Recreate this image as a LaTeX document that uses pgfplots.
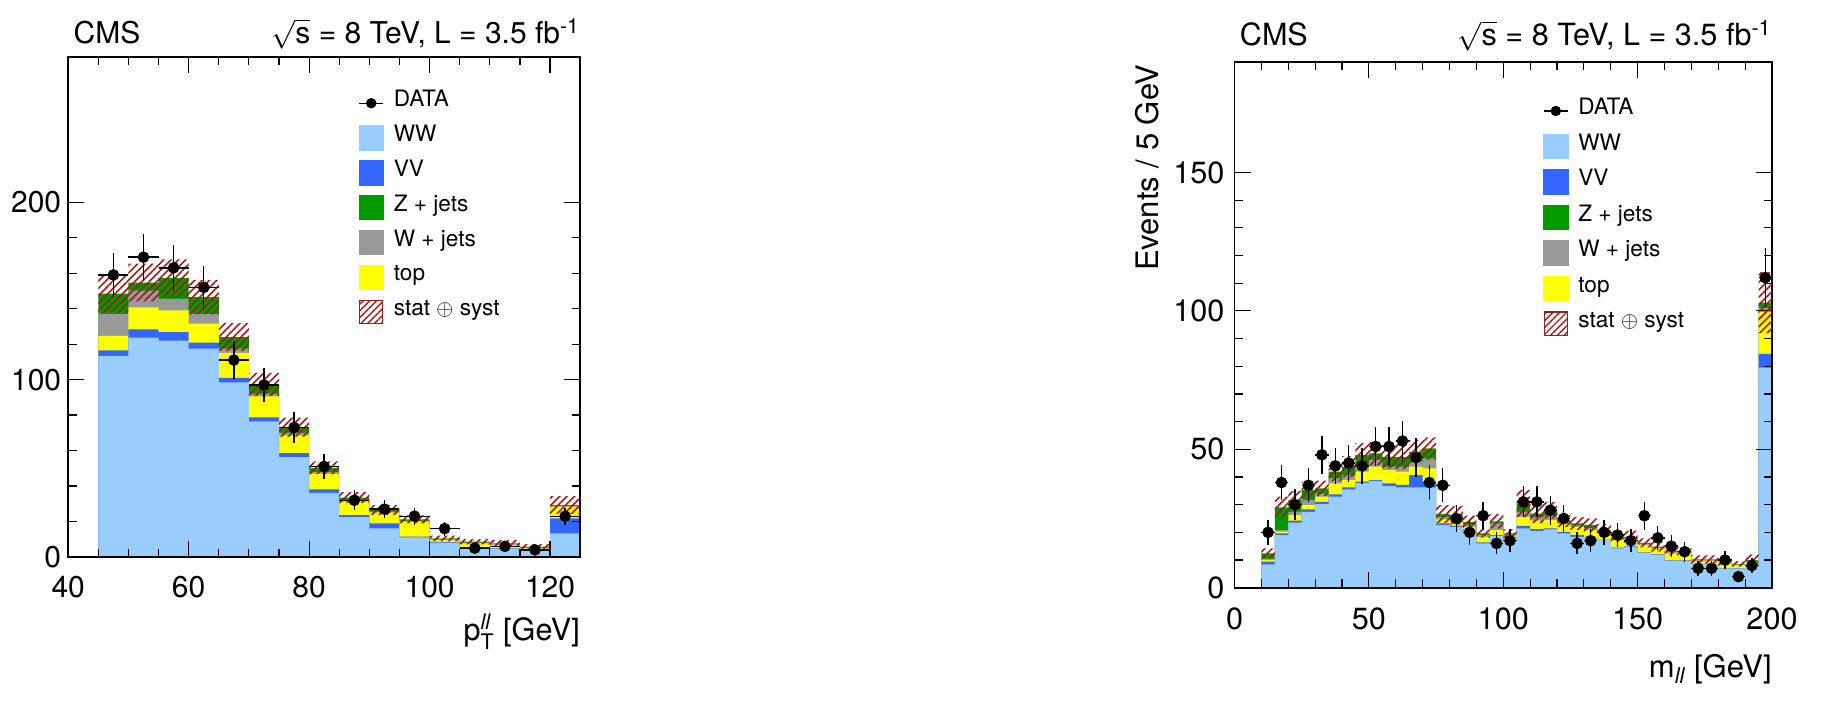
\documentclass[border=0pt]{standalone}
\usepackage{fontspec}
\setmainfont{TeX Gyre Heros}
\usepackage{amsmath}
\usepackage{pgfplots}
\pgfplotsset{compat=1.18}
\usepackage{pgfplotstable}
\usetikzlibrary{patterns.meta}

\definecolor{cww}{RGB}{153,204,255}
\definecolor{cvv}{RGB}{51,102,255}
\definecolor{czj}{RGB}{0,153,0}
\definecolor{cwj}{RGB}{153,153,153}
\definecolor{ctop}{RGB}{255,255,0}
\definecolor{chatch}{RGB}{165,25,25}

% cumulative stack boundaries (WW, +VV, +top, +W+jets, +Z+jets), band half-width, data, data error
\pgfplotstableread{
x   ww    vv    top   wj    zj    err  d    de
45  113.2 116.4 124.7 137   148.4 10.6 159  12.6
50  123.6 128.3 140.7 150.2 154.7 10.6 169  13
55  122   126.8 139   145.5 157.2 10.5 163  12.8
60  117.4 120.8 131.5 137   146.5 9.7  152  12.3
65  98.4  101   115.1 117.4 124   7.8  111  10.5
70  76.4  78.7  90.5  92    97.3  6.5  97   9.8
75  56.3  58.6  68.5  69.9  73.2  5.3  73   8.5
80  36.2  38.1  47    47.9  50.3  3.6  51   7.1
85  22.5  23.6  31.3  32    33.5  3.0  32   5.7
90  16.2  19    25    25.6  26.5  2.8  27   5.2
95  11.1  11.5  19.9  20.4  21.2  2.2  23   4.8
100 8.1   8.5   9.6   10    10.5  1.6  16   4
105 4.9   5.1   7.7   8.1   8.6   1.5  5    2.2
110 4.5   4.8   6.8   7.2   7.7   1.8  6    2.4
115 3.6   3.8   4.9   5.3   5.8   1.4  4    2
120 13.3  21.8  28.4  28.8  29.3  5.0  23   4.8
125 13.3  21.8  28.4  28.8  29.3  5.0  nan  nan
}\tabL

\pgfplotstableread{
x   ww    vv    top   wj    zj    err  d    de
10  8.4   9.4   10    10.5  12.4  1.8  20   4.5
15  19    19.6  20.3  20.8  29    3.9  38   6.2
20  23.5  24.2  26.2  27.4  31.6  3.3  30   5.5
25  27.4  28.3  29.8  31.6  35.3  3.0  37   6.1
30  30.2  31    32.9  34    35.9  2.8  48   6.9
35  32.9  33.7  37.7  39.5  41.9  3.4  44   6.6
40  35.5  36.2  38.9  40.7  43.7  3.8  45   6.7
45  37.9  38.3  41.9  43.7  47.9  4.3  44   6.6
50  38.6  38.9  43.7  46.1  48.5  4.2  51   7.1
55  36.7  37.7  42.5  43.7  47.3  4.2  51   7.1
60  36.2  37.1  41.9  43.7  47.3  4.5  53   7.3
65  36.2  40.7  43.7  45.5  49.1  4.3  47   6.9
70  36.2  38.3  43.1  46.7  50.3  4.0  38   6.2
75  22.6  23.2  24.7  25.5  26.6  3.2  37   6.1
80  22    22.4  23.8  24.6  26.2  3.4  25   5
85  20.6  21.1  22    22.8  23.8  2.2  20   4.5
90  16    16.4  18.4  19    19.6  1.5  26   5.1
95  18.7  19    20.8  23.2  24    2.6  16   4
100 17.8  18.2  19    19.3  19.6  1.5  17   4.1
105 21.4  22.3  25.6  27.4  30.4  4.9  31   5.6
110 20.5  21.2  24.2  25.4  26.8  3.5  31   5.6
115 21.1  21.4  24.4  26    28    3.0  28   5.3
120 19.6  20.1  23    23.7  24.4  2.4  25   5
125 18.4  19    22    22.5  23.2  2.4  16   4
130 18.2  18.4  20.8  21.5  22.6  2.4  17   4.1
135 17.2  17.4  19.6  20.2  20.8  2.2  20   4.5
140 14.2  14.5  17.2  17.7  18.4  1.8  19   4.4
145 14.8  15    17.4  17.9  18.4  2.2  17   4.1
150 12.6  12.8  15.4  15.8  16.2  1.6  26   5.1
155 11.8  12    14.2  14.5  14.8  1.8  18   4.2
160 9.7   9.9   12.4  12.9  13.4  1.6  15   3.9
165 9.7   9.9   12.4  12.8  13.2  1.5  13   3.6
170 8.5   8.6   9.7   10    10.2  1.5  7    2.6
175 8.5   8.6   9.7   10    10.2  1.5  7    2.6
180 7     7.1   8.8   9.1   9.3   1.3  10   3.2
185 7     7.1   8.2   8.4   8.6   1.0  4    2
190 7.8   7.9   9.4   9.7   10    2.0  8    2.8
195 79.5  84.5  99.5  101   103   11   112  10.6
200 79.5  84.5  99.5  101   103   11   nan  nan
}\tabR

\pgfplotsset{
  posL/.style={at={(34.1pt,84pt)}, anchor=south west, scale only axis,
    width=256pt, height=250.15pt, xmin=40, xmax=125, ymin=0, ymax=282},
  posR/.style={at={(617.25pt,68.65pt)}, anchor=south west, scale only axis,
    width=268.75pt, height=263pt, xmin=0, xmax=200, ymin=0, ymax=190},
  cms/.style={
    clip=false,
    axis on top,
    axis line style={line width=0.9pt},
    tick style={line width=0.6pt, black},
    tick align=inside,
    major tick length=8pt,
    minor tick length=4.2pt,
    /pgf/number format/assume math mode=true,
    tick label style={font=\fontsize{15}{17}\selectfont},
    xticklabel style={yshift=-6pt},
    legend cell align=left,
    legend style={draw=none, fill=none, anchor=north west, inner sep=0pt,
      font=\fontsize{11.3}{13}\selectfont,
      nodes={inner sep=0pt, text height=7.5pt, text depth=2.2pt},
      row sep=4.8pt},
  },
  boxleg/.style={legend image code/.code={\fill[#1] (0pt,-6.9pt) rectangle (12.2pt,5.3pt); \path (17.2pt,0pt);}},
}

\newcommand{\stack}[1]{%
  \addplot[fill=czj, draw=none, const plot, forget plot] table[x=x, y=zj] {#1} \closedcycle;
  \addplot[fill=cwj, draw=none, const plot, forget plot] table[x=x, y=wj] {#1} \closedcycle;
  \addplot[fill=ctop, draw=none, const plot, forget plot] table[x=x, y=top] {#1} \closedcycle;
  \addplot[fill=cvv, draw=none, const plot, forget plot] table[x=x, y=vv] {#1} \closedcycle;
  \addplot[fill=cww, draw=none, const plot, forget plot] table[x=x, y=ww] {#1} \closedcycle;
  \addlegendimage{legend image code/.code={\draw[black, line width=0.7pt] (0pt,-0.8pt)--(12.2pt,-0.8pt); \fill[black] (6.1pt,-0.8pt) circle (2.4pt); \path (17.2pt,-6.9pt) (0pt,5.3pt);}}
  \addlegendentry{DATA}
  \addlegendimage{boxleg={cww}}\addlegendentry{WW}
  \addlegendimage{boxleg={cvv}}\addlegendentry{VV}
  \addlegendimage{boxleg={czj}}\addlegendentry{Z + jets}
  \addlegendimage{boxleg={cwj}}\addlegendentry{W + jets}
  \addlegendimage{boxleg={ctop}}\addlegendentry{top}
  \addlegendimage{legend image code/.code={\draw[chatch, line width=0.6pt, pattern={Lines[angle=45, distance=2.4pt, line width=0.7pt]}, pattern color=chatch] (0.3pt,-6.6pt) rectangle (11.9pt,5pt); \path (17.2pt,0pt);}}
  \addlegendentry{stat $\oplus$ syst}
}

\newcommand{\band}[1]{%
  \addplot[draw=none, fill=none] table[x expr=\thisrow{x}+2.5, y expr=\thisrow{zj}-\thisrow{err}] {#1};
  \addplot[draw=none, pattern={Lines[angle=45, distance=2.6pt, line width=0.8pt]}, pattern color=chatch] table[x expr=\thisrow{x}+2.5, y expr=2*\thisrow{err}] {#1};
}

\newcommand{\data}[1]{%
  \addplot[only marks, mark=*, mark size=2.7pt, black,
    error bars/.cd, x dir=both, x fixed=2.5, y dir=both, y explicit,
    error bar style={line width=0.7pt, black}, error mark=none]
    table[x expr=\thisrow{x}+2.5, y=d, y error=de] {#1};
}

\begin{document}
\begin{tikzpicture}
\useasboundingbox (0,0) rectangle (919pt,362.5pt);

% ---------------- left panel ----------------
\begin{axis}[posL, cms,
  xtick={40,60,80,100,120}, minor x tick num=3,
  ytick={0,100,200}, minor y tick num=4,
  legend style={at={(0.566,0.933)}},
  xlabel={$\text{p}_{\text{T}}^{\textit{ll}}$ [GeV]},
  xlabel style={at={(axis description cs:1,0)}, anchor=base east, inner sep=0pt, yshift=-41.5pt, font=\fontsize{15.3}{17}\selectfont},
]
\stack{\tabL}
\node[anchor=base west, inner sep=0pt, xshift=2.5pt, yshift=6.6pt, font=\fontsize{15}{17}\selectfont] at (axis description cs:0,1) {CMS};
\node[anchor=base east, inner sep=0pt, yshift=6.6pt, font=\fontsize{15}{17}\selectfont] at (axis description cs:1,1) {$\sqrt{\text{s}}$ = 8 TeV, L = 3.5 fb$^{\text{-1}}$};
\end{axis}
\begin{axis}[posL, hide axis, ybar stacked, bar width=5, bar shift=0pt]
\band{\tabL}
\end{axis}
\begin{axis}[posL, hide axis]
\data{\tabL}
\end{axis}

% ---------------- right panel ----------------
\begin{axis}[posR, cms,
  xtick={0,50,100,150,200}, minor x tick num=4,
  ytick={0,50,100,150}, minor y tick num=4,
  tick label style={font=\fontsize{15.3}{17}\selectfont},
  xticklabel style={yshift=-0.5pt},
  yticklabel style={xshift=-1.5pt},
  legend style={at={(0.573,0.931)}, row sep=5.15pt},
  xlabel={$\text{m}_{\textit{ll}}$ [GeV]},
  xlabel style={at={(axis description cs:1,0)}, anchor=base east, inner sep=0pt, yshift=-44.7pt, font=\fontsize{15.5}{17}\selectfont},
]
\stack{\tabR}
\node[anchor=base west, inner sep=0pt, xshift=2.5pt, yshift=8pt, font=\fontsize{15.3}{17}\selectfont] at (axis description cs:0,1) {CMS};
\node[anchor=base east, inner sep=0pt, yshift=8pt, font=\fontsize{15.3}{17}\selectfont] at (axis description cs:1,1) {$\sqrt{\text{s}}$ = 8 TeV, L = 3.5 fb$^{\text{-1}}$};
\node[rotate=90, anchor=base east, inner sep=0pt, font=\fontsize{15.5}{17}\selectfont] at (axis description cs:-0.1405,0.995) {Events / 5 GeV};
\end{axis}
\begin{axis}[posR, hide axis, ybar stacked, bar width=5, bar shift=0pt]
\band{\tabR}
\end{axis}
\begin{axis}[posR, hide axis]
\data{\tabR}
\end{axis}
\end{tikzpicture}
\end{document}
